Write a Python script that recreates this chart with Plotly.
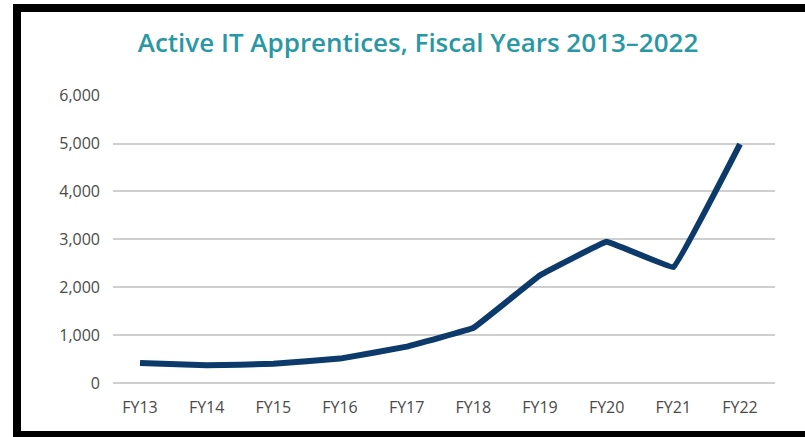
import plotly.graph_objects as go

years = ["FY13", "FY14", "FY15", "FY16", "FY17", "FY18", "FY19", "FY20", "FY21", "FY22"]
apprentices = [420, 370, 400, 510, 760, 1150, 2250, 2950, 2420, 4990]
y_ticks = [0, 1000, 2000, 3000, 4000, 5000, 6000]

W, H = 805, 437
L, R, T, B = 113, 30, 95, 54

fig = go.Figure()
fig.add_trace(go.Scatter(
    x=list(range(len(years))), y=apprentices, mode="lines",
    line=dict(color="#0b3a6b", width=6, shape="spline", smoothing=0.15),
    showlegend=False, hoverinfo="skip"))

pw, ph = W - L - R, H - T - B


def px(x):
    return (x - L) / pw


def py_(y):
    return (H - B - y) / ph


# black frame (top, left, bottom)
frame = dict(type="rect", xref="paper", yref="paper", fillcolor="black", line_width=0, layer="above")
fig.add_shape(**frame, x0=px(13), x1=px(805), y0=py_(4), y1=py_(12))
fig.add_shape(**frame, x0=px(13), x1=px(21), y0=py_(4), y1=py_(437))
fig.add_shape(**frame, x0=px(13), x1=px(805), y0=py_(431), y1=py_(437))

tick_font = dict(family="Open Sans", size=16, color="#4a4a4a")

fig.update_layout(
    width=W, height=H,
    margin=dict(l=L, r=R, t=T, b=B),
    paper_bgcolor="white", plot_bgcolor="white",
    title=dict(text="Active IT Apprentices, Fiscal Years 2013–2022",
               x=418 / W, xanchor="center", y=1 - 43 / H, yanchor="middle",
               font=dict(family="Open Sans", size=26, color="#2a98a4", weight=600)),
    xaxis=dict(range=[-0.405, 9.525], tickmode="array",
               tickvals=list(range(len(years))), ticktext=years,
               showgrid=False, zeroline=False, showline=False,
               ticklabelstandoff=13, tickfont=tick_font),
    yaxis=dict(range=[0, 6015], tickvals=y_ticks, tickformat=",",
               showgrid=True, gridcolor="#cfcfcf", gridwidth=1.5,
               zeroline=True, zerolinecolor="#cfcfcf", zerolinewidth=1.5,
               showline=False, ticklabelstandoff=12, tickfont=tick_font),
)

# page body margin would shift the figure by 8px
fig.write_html("out.html", config={"displayModeBar": False},
               post_script="document.body.style.margin='0';")
